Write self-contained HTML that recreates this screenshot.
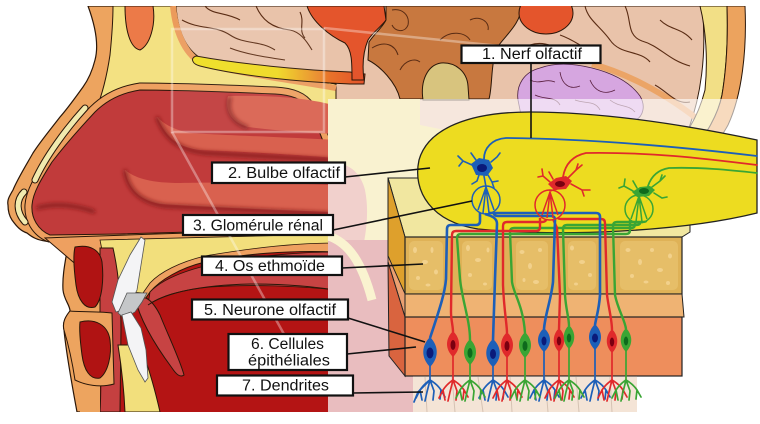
<!DOCTYPE html>
<html><head><meta charset="utf-8"><title>Olfaction</title>
<style>
html,body{margin:0;padding:0;background:#fff;width:760px;height:424px;overflow:hidden}
svg{display:block}
.lbl{font-family:"Liberation Sans",Arial,sans-serif;font-size:15.5px;fill:#111}
</style></head><body>
<svg width="760" height="424" viewBox="0 0 760 424" xmlns="http://www.w3.org/2000/svg">
<defs>
<clipPath id="pic"><rect x="0" y="6" width="760" height="406"/></clipPath>
<linearGradient id="tract" x1="190" y1="0" x2="365" y2="0" gradientUnits="userSpaceOnUse">
<stop offset="0" stop-color="#efdf20"/><stop offset="0.5" stop-color="#efd820"/><stop offset="0.8" stop-color="#e8722a"/><stop offset="1" stop-color="#e4522a"/>
</linearGradient>
<filter id="bl" x="-20%" y="-20%" width="140%" height="140%"><feGaussianBlur stdDeviation="2"/></filter>
<path id="dend" d="M0,380 Q-6,384 -10,390 L-14,398 M-10,390 L-8,400 M0,380 L-3,392 L-5,401 M0,380 L4,391 L3,400 M0,380 Q7,384 11,390 L15,397 M11,390 L10,399" fill="none"/>
<path id="fan" d="M0,-13 L-8,10 M0,-13 L-3,13 M0,-13 L3,13 M0,-13 L8,10" fill="none"/>
</defs>

<g clip-path="url(#pic)">
<!-- skin -->
<path d="M88,6 C95,25 99,45 95,60 C92,72 88,80 83,87 C75,98 68,108 60,117 C50,130 40,142 33,153 C25,167 17,180 13,190 C9,197 7,200 8,205 C8,212 10,217 12,220 C17,227 21,231 27,233 C33,238 38,240 45,241 L68,245 C66,258 62,275 63,290 C64,300 70,305 70,311 C66,316 62,322 64,330 C66,352 72,385 77,412 L340,412 L340,6 Z" fill="#eda45f" stroke="#2a1608" stroke-width="1.2"/>
<!-- yellow bone -->
<path d="M113,6 L176,6 C178,35 188,52 204,60 L336,84 L336,240 L130,240 L130,110 L96,110 C102,95 107,75 110,55 C112,35 113,20 113,6 Z" fill="#f3e182" stroke="#2a1608" stroke-width="1"/>
<path d="M125,6 L153,6 C156,25 150,45 140,50 C130,48 125,30 125,6 Z" fill="#ec7a48" stroke="#2a1608"/>
<!-- brain -->
<path d="M176,6 L702,6 C707,50 702,100 684,140 L336,140 L336,84 C290,77 240,70 204,60 C188,52 178,35 176,6 Z" fill="#e9c3aa" stroke="#2a1608"/>
<path d="M173,6 C176,36 187,56 203,64 C240,73 290,80 336,88" fill="none" stroke="#eb9b5c" stroke-width="6"/>
<path d="M182,20 C200,30 215,25 230,35 C245,45 260,40 275,50 M205,6 C212,15 226,12 240,20 M256,6 C262,20 272,28 290,30 C300,32 306,40 312,50 M230,48 C245,54 265,57 285,60 M300,12 C305,22 298,30 305,38" fill="none" stroke="#5a2c14" stroke-width="1.1"/>
<path d="M196,56 C240,64 300,70 350,72 L365,74 L364,84 L350,84 C300,82 240,76 200,66 C192,64 190,58 196,56 Z" fill="url(#tract)" stroke="#2a1608"/>
<path d="M307,6 L384,6 L386,20 C380,28 372,33 368,40 C363,52 362,65 364,80 L352,80 C352,62 352,50 345,43 C330,36 312,22 307,6 Z" fill="#e4552c" stroke="#2a1608"/>
<path d="M386,6 L522,6 C520,24 507,34 499,45 C490,60 493,85 489,99 L400,99 C396,82 380,66 368,60 L369,42 C375,33 382,28 386,20 Z" fill="#c8783f" stroke="#2a1608"/>
<path d="M372,48 C385,40 395,45 398,55 M392,10 C402,8 410,15 408,25 C405,33 395,32 392,25 M440,40 C450,30 465,32 470,40 M400,70 C405,60 415,58 420,62 M470,20 C480,15 490,22 488,30" fill="none" stroke="#5a2c14" stroke-width="1"/>
<ellipse cx="546" cy="13" rx="27" ry="21" fill="#e4552c" stroke="#2a1608"/>
<path d="M423,100 C420,80 428,65 441,63 C456,62 467,72 468,86 L469,100 Z" fill="#d8c47e" stroke="#2a1608"/>
<path d="M518,100 C516,85 524,72 540,68 C556,62 576,64 592,68 C612,73 630,82 640,96 C646,106 643,116 636,120 L522,120 Z" fill="#d6a6e0" stroke="#4a2040" stroke-width="0.8"/>
<path d="M530,80 C540,85 545,78 555,82 M560,72 C562,85 570,90 580,86 M590,80 C595,92 605,95 615,90 M535,95 C545,100 555,96 560,105 M575,100 C585,104 595,100 600,110 M610,100 C620,108 628,104 635,112" stroke="#5a2040" fill="none" stroke-width="0.8"/>
<path d="M592,64 C622,72 662,90 705,125" fill="none" stroke="#eba466" stroke-width="6"/>
<path d="M585,6 C588,20 600,26 610,40 C620,55 640,50 650,62 M625,6 C632,20 626,35 642,41 C660,46 668,60 690,66 M660,20 C670,30 682,28 692,40 M560,35 C575,40 585,50 600,55 M655,85 C668,92 676,105 690,102 M530,45 C545,40 560,48 565,58" fill="none" stroke="#5a2c14" stroke-width="1.1"/>
<!-- skull -->
<path d="M700,6 L727,6 C728,35 727,65 722,95 C718,115 706,135 693,150 L676,146 C690,130 700,110 705,90 C708,60 706,30 700,6 Z" fill="#f2df86" stroke="#2a1608"/>
<path d="M727,6 L745,6 C747,50 742,95 728,125 C721,138 712,150 704,158 L693,150 C706,135 718,115 722,95 C727,65 728,35 727,6 Z" fill="#eca35e" stroke="#2a1608"/>

<!-- nasal cavity -->
<path d="M140,90 C120,93 105,102 95,112 C80,128 65,145 52,162 C42,178 33,192 32,205 C31,218 38,230 50,235 L120,234 L336,228 L336,175 C326,150 318,125 308,108 C302,99 292,95 275,94 C230,92 180,90 140,90 Z" fill="none" stroke="#2a1608" stroke-width="15"/>
<path d="M140,90 C120,93 105,102 95,112 C80,128 65,145 52,162 C42,178 33,192 32,205 C31,218 38,230 50,235 L120,234 L336,228 L336,175 C326,150 318,125 308,108 C302,99 292,95 275,94 C230,92 180,90 140,90 Z" fill="none" stroke="#eea060" stroke-width="13"/>
<path d="M140,90 C120,93 105,102 95,112 C80,128 65,145 52,162 C42,178 33,192 32,205 C31,218 38,230 50,235 L120,234 L336,228 L336,175 C326,150 318,125 308,108 C302,99 292,95 275,94 C230,92 180,90 140,90 Z" fill="#c13b3b" stroke="#2a1608" stroke-width="1"/>
<!-- cartilage -->
<path d="M85,108 C65,130 45,158 35,180 M24,192 C16,200 16,212 25,222" fill="none" stroke="#2a1608" stroke-width="7" stroke-linecap="round"/>
<path d="M85,108 C65,130 45,158 35,180 M24,192 C16,200 16,212 25,222" fill="none" stroke="#f1eaae" stroke-width="5" stroke-linecap="round"/>
<!-- turbinates -->
<path d="M228,96 C225,110 230,122 248,127 C280,131 310,133 336,134 L336,106 C310,98 270,95 228,96 Z" fill="#d9614f"/>
<path d="M157,117 C165,135 175,147 200,150 C250,152 300,155 336,158 L336,140 C280,137 220,135 190,133 C175,130 165,125 157,117 Z" fill="#d9614f"/>
<path d="M125,170 C128,188 138,200 160,204 C220,208 280,210 336,212 L336,185 C280,183 220,182 180,183 C150,183 135,178 125,170 Z" fill="#d9614f"/>
<g fill="none" stroke="#7a1616" stroke-width="3" filter="url(#bl)">
<path d="M230,97 C226,110 231,122 248,128"/>
<path d="M157,117 C165,138 178,150 205,153 L330,160"/>
<path d="M125,170 C128,190 140,202 165,206 L330,214"/>
<path d="M37,208 C55,203 75,205 95,212"/>
</g>

<!-- mouth -->
<path d="M100,236 L336,228 L336,412 L100,412 Z" fill="#b41414"/>
<path d="M45,238 C100,236 200,232 336,229 L336,252 C290,250 240,254 205,262 C180,268 160,280 150,292 L143,302 L120,302 Z" fill="#eea060" stroke="#2a1608"/>
<path d="M100,240 C160,238 240,236 336,234 L336,243 C290,243 245,249 205,256 C180,262 160,272 150,283 L143,293 L110,290 Z" fill="#f2df7c" stroke="#2a1608" stroke-width="0.8"/>
<path d="M150,292 C165,276 200,264 250,258 C280,254 310,252 336,252 L336,290 C300,286 250,284 210,287 C180,290 160,296 148,305 Z" fill="#c74343" stroke="#2a1608" stroke-width="0.8"/>
<path d="M135,298 C140,320 155,345 172,368 C176,374 180,378 184,375 C180,360 168,335 160,315 C155,305 150,300 146,298 Z" fill="#c74343" stroke="#2a1608"/>
<path d="M148,305 C170,290 210,285 250,284 C290,284 315,287 336,290" fill="none" stroke="#2a1608"/>
<!-- lips -->
<path d="M100,248 L113,248 C118,270 121,300 121,330 L120,412 L100,412 C102,380 100,340 100,320 Z" fill="#c54040" stroke="#2a1608"/>
<path d="M118,345 L140,345 C148,365 155,390 160,412 L125,412 C124,390 122,370 118,345 Z" fill="#f2df7c" stroke="#2a1608"/>
<path d="M75,247 C90,244 100,250 102,262 C104,280 102,300 95,307 C85,310 78,300 76,285 C74,270 73,255 75,247 Z" fill="#b01313" stroke="#2a1608"/>
<path d="M70,311 C78,312 95,311 112,313 L114,384 C100,388 85,385 75,380 C72,360 67,340 64,330 C62,322 66,316 70,311 Z" fill="#eda45f" stroke="#2a1608"/>
<path d="M80,322 C95,318 108,325 110,340 C112,355 108,372 100,378 C90,380 84,370 82,355 C80,340 79,330 80,322 Z" fill="#b01313" stroke="#2a1608"/>
<path d="M77,395 C85,392 95,390 100,388 L100,412 L80,412 Z" fill="#eda45f"/>
<!-- teeth -->
<path d="M116,312 L112,302 L118,280 L130,255 L141,237 L145,240 L141,265 L137,290 L128,308 Z" fill="#f4f4f6" stroke="#555" stroke-width="0.8"/>
<path d="M118,313 L127,293 L147,293 L142,302 L135,312 L124,318 Z" fill="#c5c7c9" stroke="#555" stroke-width="0.8"/>
<path d="M122,315 L131,312 L141,328 L146,350 L148,378 L145,382 L138,370 L128,345 Z" fill="#f4f4f6" stroke="#555" stroke-width="0.8"/>

<!-- faint frame -->
<g fill="none" stroke="#ffffff" stroke-opacity="0.35" stroke-width="2.5">
<rect x="172" y="29" width="152" height="103" fill="#ffffff" fill-opacity="0.06"/>
<path d="M172,132 L290,345 M324,28 L500,46"/>
</g>

<!-- region under overlay -->
<path d="M328,99 L420,99 L420,125 L470,135 L470,240 L328,240 Z" fill="#f1df8a"/>
<path d="M328,165 C345,160 360,170 365,190 C370,215 365,240 360,260 L328,260 Z" fill="#dc8a80"/>
<rect x="328" y="240" width="92" height="172" fill="#c85a60"/>
<path d="M328,236 C348,242 362,262 372,300" fill="none" stroke="#f2e08a" stroke-width="9"/>
<rect x="328" y="99" width="432" height="313" fill="#ffffff" fill-opacity="0.6"/>
</g>

<!-- ethmoid block -->
<path d="M388,178 L690,178 L690,232 L682,237 L405,237 Z" fill="#f1e7a0" stroke="#222" stroke-width="1"/>
<path d="M388,178 L405,237 L405,294 L388,256 Z" fill="#dea02c" stroke="#222" stroke-width="1"/>
<rect x="405" y="237" width="277" height="57" fill="#dfb257" stroke="#222" stroke-width="1.2"/>
<g fill="#e6be68">
<rect x="409" y="241" width="34" height="49" rx="5"/><rect x="462" y="241" width="30" height="49" rx="5"/><rect x="516" y="241" width="32" height="49" rx="5"/><rect x="568" y="241" width="28" height="49" rx="5"/><rect x="620" y="241" width="58" height="49" rx="5"/>
</g>
<g fill="#f2d18c">
<ellipse cx="415" cy="250" rx="2" ry="3"/><ellipse cx="425" cy="262" rx="3" ry="2"/><ellipse cx="418" cy="278" rx="2" ry="2"/><ellipse cx="432" cy="250" rx="1.5" ry="3"/><ellipse cx="436" cy="272" rx="2" ry="2.5"/><ellipse cx="428" cy="285" rx="2.5" ry="1.5"/>
<ellipse cx="468" cy="248" rx="2" ry="3"/><ellipse cx="478" cy="260" rx="3" ry="2"/><ellipse cx="470" cy="275" rx="2" ry="2"/><ellipse cx="485" cy="284" rx="2" ry="1.5"/><ellipse cx="488" cy="250" rx="1.5" ry="2.5"/>
<ellipse cx="522" cy="252" rx="2.5" ry="2"/><ellipse cx="530" cy="266" rx="2" ry="3"/><ellipse cx="540" cy="250" rx="2" ry="2"/><ellipse cx="536" cy="282" rx="3" ry="2"/><ellipse cx="524" cy="280" rx="1.5" ry="2"/>
<ellipse cx="572" cy="248" rx="2" ry="2.5"/><ellipse cx="582" cy="262" rx="3" ry="2"/><ellipse cx="590" cy="275" rx="2" ry="2"/><ellipse cx="576" cy="284" rx="2" ry="1.5"/>
<ellipse cx="628" cy="250" rx="2.5" ry="2"/><ellipse cx="640" cy="262" rx="2" ry="3"/><ellipse cx="652" cy="250" rx="2" ry="2"/><ellipse cx="660" cy="270" rx="3" ry="2"/><ellipse cx="670" cy="256" rx="2" ry="2.5"/><ellipse cx="646" cy="282" rx="2.5" ry="1.5"/><ellipse cx="632" cy="276" rx="2" ry="2"/><ellipse cx="668" cy="283" rx="2" ry="2"/>
</g>
<!-- lamina + epithelium -->
<path d="M388,256 L405,294 L405,317 L388,262 Z" fill="#eba070" stroke="#222" stroke-width="0.8"/>
<path d="M405,294 L682,294 L684,317 L405,317 Z" fill="#efb373" stroke="#222" stroke-width="1"/>
<path d="M388,262 L405,317 L405,376 L389,356 Z" fill="#d9643f" stroke="#222" stroke-width="1"/>
<rect x="405" y="317" width="277" height="59" fill="#ee8e5c" stroke="#222" stroke-width="1.2"/>
<rect x="413" y="376.6" width="224" height="35.4" fill="#f4e4d6"/>
<path d="M425,377 L427,412 M452,377 L455,412 M478,377 L483,412 M510,377 L512,412 M545,377 L548,412 M576,377 L579,412 M610,377 L612,412" stroke="#c9b5a5" stroke-width="1" opacity="0.7"/>

<!-- bulb -->
<path d="M757,140 C700,128 610,112 530,112 C470,112 428,128 419,160 C412,192 432,222 478,229 C560,237 680,232 757,213 Z" fill="#eddc20" stroke="#222" stroke-width="1.3"/>

<!-- axons -->
<g fill="none" stroke-width="2.4" stroke-linejoin="round">
<g stroke="#3aa534">
<path d="M630,220 L630,230 Q630,234 626,234 L461,234 Q457,234 457,238 L460,279 C462,300 470,320 470,340"/>
<path d="M635,222 L635,224 Q635,228 631,228 L514,228 Q510,228 510,232 L512,282 C514,295 523,305 525,333"/>
<path d="M640,223 Q640,225 636,225 L567,225 Q563,225 563,229 L565,295 C566,310 569,318 569,326"/>
<path d="M646,221 Q646,222 642,222 L617,222 Q613,222 613,226 L615,295 C618,310 625,320 626,329"/>
</g>
<g stroke="#e0292b">
<path d="M540,218 L540,227 Q540,231 536,231 L456,231 Q452,231 452,235 L451,312 C451,320 453,326 453,332"/>
<path d="M546,219 Q546,222 542,222 L507,222 Q503,222 503,226 L503,285 C504,310 507,325 507,333"/>
<path d="M553,219 L557,228 L560,295 L559,329"/>
<path d="M558,218 Q558,219 562,219 L601,219 Q605,219 605,223 L607,295 C609,310 612,320 612,330"/>
</g>
<g stroke="#1d5fb8" stroke-width="2.6">
<path d="M480,213 L480,221 Q480,225 476,225 L451,225 Q447,225 447,229 L446,279 C445,292 441,305 430,338"/>
<path d="M485,214 C492,216 497,218 497,224 L495,279 L493,340"/>
<path d="M494,213 Q494,216 498,216 L551,216 Q555,216 555,220 L553,282 C551,300 545,315 544,329"/>
<path d="M489,213 L596,213 Q600,213 600,217 L600,295 C599,310 596,318 595,325"/>
</g>
</g>

<!-- dendrites -->
<g fill="none" stroke-width="1.7" stroke-linecap="round">
<g stroke="#1d5fb8">
<path d="M430,366 L430,380 M493,366 L493,380 M544,351 L544,380 M595,349 L595,380"/>
<use href="#dend" transform="translate(430,0)"/><use href="#dend" transform="translate(493,0)"/><use href="#dend" transform="translate(544,0)"/><use href="#dend" transform="translate(595,0)"/>
<path d="M430,380 L418,392 L414,402"/>
</g>
<g stroke="#e0292b">
<path d="M453,356 L453,380 M507,357 L507,380 M559,351 L559,380 M612,352 L612,380"/>
<use href="#dend" transform="translate(453,0)"/><use href="#dend" transform="translate(507,0)"/><use href="#dend" transform="translate(559,0)"/><use href="#dend" transform="translate(612,0)"/>
</g>
<g stroke="#3aa534">
<path d="M470,364 L470,380 M525,357 L525,380 M569,348 L569,380 M626,351 L626,380"/>
<use href="#dend" transform="translate(470,0)"/><use href="#dend" transform="translate(525,0)"/><use href="#dend" transform="translate(569,0)"/><use href="#dend" transform="translate(626,0)"/>
</g>
</g>

<!-- cell bodies -->
<g fill="#1d5fb8">
<path d="M430,337 C439,346 439,358 430,367 C421,358 421,346 430,337Z"/>
<path d="M493,339 C502,347 502,359 493,367 C484,359 484,347 493,339Z"/>
<path d="M544,328 C552,335 552,345 544,352 C536,345 536,335 544,328Z"/>
<path d="M595,324 C603,332 603,342 595,350 C587,342 587,332 595,324Z"/>
</g>
<g fill="#0a1a7a"><ellipse cx="430" cy="353" rx="3.5" ry="5.5"/><ellipse cx="493" cy="354" rx="3" ry="5"/><ellipse cx="544" cy="341" rx="2.5" ry="4.5"/><ellipse cx="595" cy="338" rx="3" ry="4.5"/></g>
<g fill="#e0292b">
<path d="M453,331 C461,339 461,349 453,357 C445,349 445,339 453,331Z"/>
<path d="M507,332 C515,340 515,350 507,358 C499,350 499,340 507,332Z"/>
<path d="M559,328 C566,335 566,345 559,352 C552,345 552,335 559,328Z"/>
<path d="M612,329 C619,336 619,346 612,353 C605,346 605,336 612,329Z"/>
</g>
<g fill="#7a0010"><ellipse cx="453" cy="345" rx="2.5" ry="5"/><ellipse cx="507" cy="346" rx="2.5" ry="5"/><ellipse cx="559" cy="341" rx="2.2" ry="4.5"/><ellipse cx="612" cy="342" rx="2.2" ry="4.5"/></g>
<g fill="#3aa534">
<path d="M470,339 C478,347 478,357 470,365 C462,357 462,347 470,339Z"/>
<path d="M525,332 C533,340 533,350 525,358 C517,350 517,340 525,332Z"/>
<path d="M569,325 C576,332 576,342 569,349 C562,342 562,332 569,325Z"/>
<path d="M626,328 C633,335 633,345 626,352 C619,345 619,335 626,328Z"/>
</g>
<g fill="#0e6a1c"><ellipse cx="470" cy="353" rx="2.5" ry="5"/><ellipse cx="525" cy="346" rx="2.5" ry="5"/><ellipse cx="569" cy="338" rx="2.2" ry="4.5"/><ellipse cx="626" cy="341" rx="2.2" ry="4.5"/></g>

<!-- glomeruli -->
<g fill="none" stroke-width="1.5">
<g stroke="#1d5fb8"><circle cx="486" cy="200" r="14"/><use href="#fan" transform="translate(486,200)"/></g>
<g stroke="#e0292b"><circle cx="550" cy="205" r="15"/><use href="#fan" transform="translate(550,205)"/></g>
<g stroke="#3aa534"><circle cx="639" cy="209" r="14"/><use href="#fan" transform="translate(639,209)"/></g>
</g>

<!-- mitral cells -->
<g fill="none" stroke-width="1.6" stroke-linecap="round">
<g stroke="#1d5fb8">
<path d="M484,159 C484,148 492,139 506,138 C600,139 690,148 757,156" stroke-width="1.8"/>
<path d="M472,165 L463,161 L458,156 M463,161 L459,166 M476,160 L471,153 M488,175 L492,182 L498,181 M492,182 L494,188 M491,162 L497,157 L500,153 M479,175 L477,181 L472,184 M484,176 L486,187"/>
</g>
<g stroke="#e0292b">
<path d="M563,177 C565,165 572,156 586,153 C650,152 700,158 757,165" stroke-width="1.8"/>
<path d="M550,182 L543,176 L538,177 M543,176 L542,169 M553,179 L549,172 M568,178 L576,170 L582,165 M576,170 L578,164 M571,184 L582,190 L590,190 M582,190 L584,196 M557,189 L550,191"/>
</g>
<g stroke="#3aa534">
<path d="M648,186 C651,177 657,170 669,168 C700,167 730,170 757,173" stroke-width="1.8"/>
<path d="M633,191 L624,186 L619,188 M624,186 L625,179 M637,188 L633,181 M652,187 L660,181 L665,176 M660,181 L662,175 M654,193 L662,198 L667,197 M640,196 L639,196"/>
</g>
</g>
<path d="M471,164 L479,158 L489,160 L493,168 L487,176 L476,175 Z" fill="#1d5fb8"/>
<ellipse cx="482" cy="168" rx="5" ry="4" fill="#0a1a7a"/>
<path d="M548,184 L556,178 L566,176 L572,181 L566,189 L554,190 Z" fill="#e0292b"/>
<ellipse cx="560" cy="184" rx="5" ry="3" fill="#7a0010"/>
<path d="M632,192 L640,187 L650,186 L655,190 L649,196 L637,197 Z" fill="#3aa534"/>
<ellipse cx="644" cy="191" rx="5" ry="3" fill="#0e6a1c"/>

<!-- leader lines -->
<g stroke="#111" stroke-width="1.6" fill="none">
<path d="M531,63 L531,138"/>
<path d="M345,177 L430,168"/>
<path d="M333,230 L472,201"/>
<path d="M342,268 L423,264"/>
<path d="M348,318 L425,342"/>
<path d="M347,354 L416,347"/>
<path d="M353,393 L423,392"/>
</g>

<!-- label boxes -->
<g fill="#fff" stroke="#111" stroke-width="2.2">
<rect x="461.5" y="45.5" width="139" height="17.5"/>
<rect x="212" y="162.5" width="133" height="20.5"/>
<rect x="183" y="215" width="150" height="20"/>
<rect x="202" y="256.5" width="140" height="18.5"/>
<rect x="192" y="299.5" width="156" height="20"/>
<rect x="228.5" y="334" width="118.5" height="36"/>
<rect x="217" y="375.5" width="136" height="20"/>
</g>
<text class="lbl" x="482" y="59" textLength="100" lengthAdjust="spacingAndGlyphs">1. Nerf olfactif</text>
<text class="lbl" x="228" y="178" textLength="112" lengthAdjust="spacingAndGlyphs">2. Bulbe olfactif</text>
<text class="lbl" x="193" y="230.5" textLength="130" lengthAdjust="spacingAndGlyphs">3. Glomérule rénal</text>
<text class="lbl" x="215" y="271" textLength="110" lengthAdjust="spacingAndGlyphs">4. Os ethmoïde</text>
<text class="lbl" x="204" y="315" textLength="132" lengthAdjust="spacingAndGlyphs">5. Neurone olfactif</text>
<text class="lbl" x="251" y="349" textLength="73" lengthAdjust="spacingAndGlyphs">6. Cellules</text>
<text class="lbl" x="248" y="365.5" textLength="82" lengthAdjust="spacingAndGlyphs">épithéliales</text>
<text class="lbl" x="242" y="390.5" textLength="87" lengthAdjust="spacingAndGlyphs">7. Dendrites</text>
</svg>
</body></html>
